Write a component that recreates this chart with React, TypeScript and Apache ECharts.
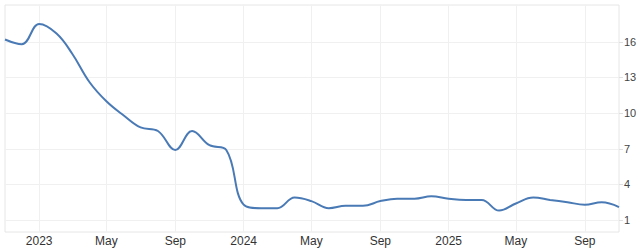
import React, { useEffect, useRef } from "react";
import * as echarts from "echarts";

const months = [
  "2022-11", "2022-12",
  "2023-01", "2023-02", "2023-03", "2023-04", "2023-05", "2023-06",
  "2023-07", "2023-08", "2023-09", "2023-10", "2023-11", "2023-12",
  "2024-01", "2024-02", "2024-03", "2024-04", "2024-05", "2024-06",
  "2024-07", "2024-08", "2024-09", "2024-10", "2024-11", "2024-12",
  "2025-01", "2025-02", "2025-03", "2025-04", "2025-05", "2025-06",
  "2025-07", "2025-08", "2025-09", "2025-10", "2025-11",
];

const inflation = [
  16.2, 15.8,
  17.5, 16.7, 15.0, 12.6, 11.0, 9.8,
  8.8, 8.5, 6.9, 8.5, 7.3, 6.9,
  2.3, 2.0, 2.0, 2.9, 2.6, 2.0,
  2.2, 2.2, 2.6, 2.8, 2.8, 3.0,
  2.8, 2.7, 2.7, 1.8, 2.4, 2.9,
  2.7, 2.5, 2.3, 2.5, 2.1,
];

const yTicks = [1, 4, 7, 10, 13, 16];
const xTickMonths = [
  "2023-01", "2023-05", "2023-09",
  "2024-01", "2024-05", "2024-09",
  "2025-01", "2025-05", "2025-09",
];
const monthNames = ["Jan", "Feb", "Mar", "Apr", "May", "Jun", "Jul", "Aug", "Sep", "Oct", "Nov", "Dec"];

const toTs = (m: string) => {
  const [y, mo] = m.split("-").map(Number);
  return Date.UTC(y, mo - 1, 1);
};

export default function App() {
  const ref = useRef<HTMLDivElement>(null);
  useEffect(() => {
    if (!ref.current) return;
    const chart = echarts.init(ref.current, undefined, { renderer: "svg" });
    const xTicks = xTickMonths.map(toTs);
    const seriesData = months.map((m, i) => [toTs(m), inflation[i]]);
    chart.setOption({
      animation: false,
      grid: {
        left: 5,
        right: 21,
        top: 5,
        bottom: 19,
        show: true,
        borderColor: "#e6e6e6",
        borderWidth: 1,
        backgroundColor: "transparent",
      },
      xAxis: {
        type: "value",
        min: toTs("2022-11"),
        max: toTs("2025-11"),
        axisLine: { show: false },
        axisTick: { show: false },
        splitLine: { show: false },
        axisLabel: {
          customValues: xTicks,
          margin: 3,
          color: "#333",
          fontSize: 12,
          fontFamily: "Liberation Sans, Arial, sans-serif",
          formatter: (v: number) => {
            const d = new Date(v);
            return d.getUTCMonth() === 0 ? String(d.getUTCFullYear()) : monthNames[d.getUTCMonth()];
          },
        },
      },
      yAxis: {
        type: "value",
        position: "right",
        min: 0,
        max: 19.1,
        axisLine: { show: false },
        axisTick: { show: true, customValues: yTicks, length: 4, lineStyle: { color: "#e0e0e0" } },
        splitLine: { show: false },
        axisLabel: {
          customValues: yTicks,
          margin: 5,
          color: "#444",
          fontSize: 11,
          fontFamily: "Liberation Sans, Arial, sans-serif",
        },
      },
      series: [
        {
          type: "line",
          z: 1,
          data: seriesData,
          showSymbol: false,
          lineStyle: { opacity: 0 },
          silent: true,
          markLine: {
            z: 1,
            silent: true,
            symbol: "none",
            label: { show: false },
            lineStyle: { color: "#f0f0f0", type: "solid", width: 1 },
            data: [
              ...yTicks.map((v) => ({ yAxis: v })),
              ...xTicks.map((t) => ({ xAxis: t })),
            ],
          },
        },
        {
          type: "line",
          z: 10,
          data: seriesData,
          showSymbol: false,
          smooth: 0.4,
          lineStyle: { color: "#4a7ab5", width: 2 },
        },
      ],
    });
    return () => chart.dispose();
  }, []);
  return (
    <div
      ref={ref}
      style={{ position: "absolute", left: 0, top: 0, width: 640, height: 251, background: "#fff" }}
    />
  );
}
